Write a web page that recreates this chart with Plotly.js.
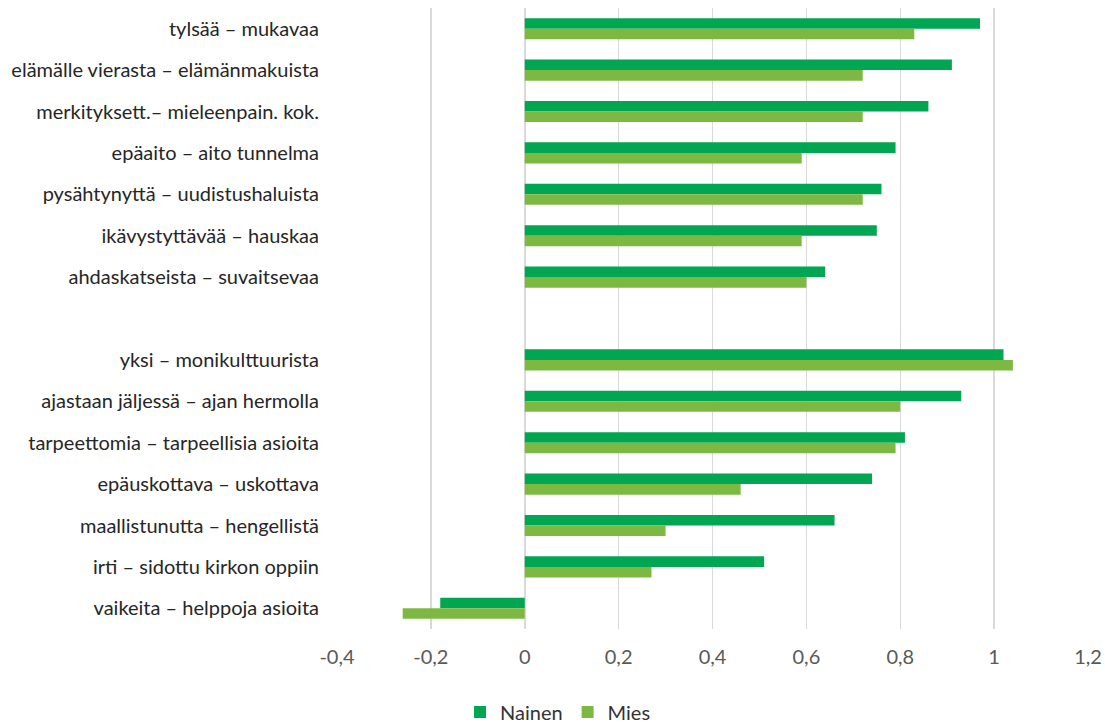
<!DOCTYPE html>
<html>
<head>
<meta charset="utf-8">
<script src="https://cdn.plot.ly/plotly-3.0.1.min.js"></script>
<style>html,body{margin:0;padding:0;background:#fff;}#chart{width:1105px;height:724px;}</style>
</head>
<body>
<div id="chart"></div>
<script>
const categories = [
  "tylsää – mukavaa",
  "elämälle vierasta – elämänmakuista",
  "merkityksett.– mieleenpain. kok.",
  "epäaito – aito tunnelma",
  "pysähtynyttä – uudistushaluista",
  "ikävystyttävää – hauskaa",
  "ahdaskatseista – suvaitsevaa",
  " ",
  "yksi – monikulttuurista",
  "ajastaan jäljessä – ajan hermolla",
  "tarpeettomia – tarpeellisia asioita",
  "epäuskottava – uskottava",
  "maallistunutta – hengellistä",
  "irti – sidottu kirkon oppiin",
  "vaikeita – helppoja asioita"
];
const nainen = [0.97, 0.91, 0.86, 0.79, 0.76, 0.75, 0.64, null, 1.02, 0.93, 0.81, 0.74, 0.66, 0.51, -0.18];
const mies   = [0.83, 0.72, 0.72, 0.59, 0.72, 0.59, 0.60, null, 1.04, 0.80, 0.79, 0.46, 0.30, 0.27, -0.26];
const tickVals = [-0.4, -0.2, 0, 0.2, 0.4, 0.6, 0.8, 1, 1.2];
const tickText = ["-0,4", "-0,2", "0", "0,2", "0,4", "0,6", "0,8", "1", "1,2"];

const FONT = "Lato, 'Open Sans', sans-serif";
const traces = [
  {type: "bar", orientation: "h", name: "Nainen", y: categories, x: nainen,
   marker: {color: "#00A651"}, hoverinfo: "x+y"},
  {type: "bar", orientation: "h", name: "Mies", y: categories, x: mies,
   marker: {color: "#7DB843"}, hoverinfo: "x+y"}
];
const layout = {
  width: 1105, height: 724,
  margin: {l: 337, r: 17, t: 8, b: 95, pad: 0, autoexpand: false},
  paper_bgcolor: "#fff", plot_bgcolor: "#fff",
  barmode: "group", bargap: 0.49, bargroupgap: 0,
  font: {family: FONT, color: "#404040", size: 20},
  xaxis: {range: [-0.4, 1.2], tickvals: tickVals, ticktext: tickText,
    showgrid: true, gridcolor: "#D9D9D9", gridwidth: 1.5, zeroline: false,
    showline: false, ticks: "", ticklabelstandoff: 14,
    tickfont: {size: 20, color: "#595959", family: FONT}, fixedrange: true},
  yaxis: {type: "category", autorange: "reversed", showgrid: false, zeroline: false,
    showline: false, ticks: "", ticklabelstandoff: 17,
    tickfont: {size: 20, color: "#262626", family: FONT}, fixedrange: true},
  showlegend: true,
  legend: {orientation: "h", xref: "container", yref: "container",
    x: 0.505, xanchor: "center", y: 0.0166, yanchor: "middle",
    font: {size: 20, color: "#333333", family: FONT}, traceorder: "normal",
    itemwidth: 30, tracegroupgap: 0}
};
Plotly.newPlot("chart", traces, layout, {displayModeBar: false, staticPlot: true});
</script>
</body>
</html>
